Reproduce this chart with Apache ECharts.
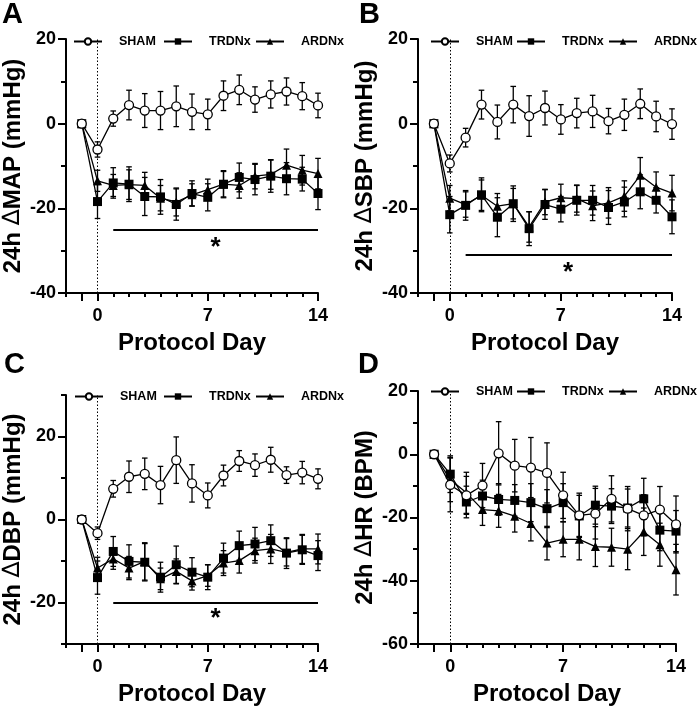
<!DOCTYPE html>
<html><head><meta charset="utf-8">
<script src="https://cdn.jsdelivr.net/npm/echarts@6/dist/echarts.min.js"></script>
<style>html,body{margin:0;padding:0;background:#fff}#c{width:700px;height:707px}</style>
</head><body><div id="c"></div>
<script>
const days = [-1, 0, 1, 2, 3, 4, 5, 6, 7, 8, 9, 10, 11, 12, 13, 14];
const seriesNames = ['SHAM', 'TRDNx', 'ARDNx'];
const xLabelDays = [0, 7, 14];
const xMajorTickDays = [-1, 0, 7, 14];

// Panel A: 24h ΔMAP
const mapSham     = [0, -6.1, 1.2, 4.4, 3.1, 3.1, 4.1, 2.8, 2.2, 6.6, 8.0, 5.7, 6.9, 7.6, 6.5, 4.3];
const mapShamErr  = [0, 1.8, 1.8, 3.5, 4.0, 4.5, 4.8, 4.2, 3.6, 3.5, 3.5, 3.0, 3.2, 3.2, 3.2, 2.9];
const mapTrdn     = [0, -18.4, -14.0, -14.3, -17.2, -17.3, -19.1, -16.5, -17.4, -14.3, -12.7, -13.2, -12.4, -13.0, -13.1, -16.5];
const mapTrdnErr  = [0, 4.0, 3.6, 4.1, 4.5, 4.1, 3.7, 3.0, 3.2, 3.2, 3.4, 3.6, 3.8, 3.8, 2.8, 3.8];
const mapArdn     = [0, -13.5, -14.6, -14.4, -14.6, -17.6, -18.5, -16.8, -15.6, -14.3, -14.6, -12.4, -12.0, -9.8, -11.0, -11.8];
const mapArdnErr  = [0, 2.5, 2.6, 3.5, 3.1, 3.0, 3.3, 2.6, 2.5, 3.0, 3.0, 3.0, 3.5, 3.8, 3.5, 3.6];
const mapSigBar   = [1, 14, -25];
const mapStar     = [7.5, -27.7];

// Panel B: 24h ΔSBP
const sbpSham     = [0, -9.4, -3.3, 4.5, 0.4, 4.5, 1.8, 3.7, 1.0, 2.5, 2.9, 0.6, 2.1, 4.7, 1.7, -0.1];
const sbpShamErr  = [0, 2.0, 2.2, 3.4, 4.0, 4.3, 4.8, 4.0, 3.5, 3.5, 3.8, 3.0, 3.7, 3.5, 3.6, 3.6];
const sbpTrdn     = [0, -21.5, -19.3, -16.8, -22.1, -18.9, -24.8, -19.1, -20.2, -18.1, -18.1, -19.8, -18.5, -16.1, -18.1, -22.0];
const sbpTrdnErr  = [0, 4.3, 3.5, 4.0, 4.6, 4.2, 4.0, 3.5, 3.0, 3.5, 3.5, 4.0, 3.5, 4.0, 3.0, 4.0];
const sbpArdn     = [0, -17.6, -19.1, -16.9, -19.5, -18.9, -24.4, -18.5, -17.5, -17.7, -19.4, -18.7, -17.1, -12.2, -15.0, -16.4];
const sbpArdnErr  = [0, 3.0, 3.0, 3.6, 3.0, 3.6, 3.6, 3.0, 3.2, 3.2, 3.5, 3.6, 3.6, 4.2, 3.6, 4.2];
const sbpSigBar   = [1, 14, -31];
const sbpStar     = [7.45, -33.5];

// Panel C: 24h ΔDBP
const dbpSham     = [0, -3.3, 7.4, 10.3, 11.0, 8.3, 14.3, 8.7, 5.8, 10.6, 14.1, 13.1, 14.4, 10.7, 11.3, 9.8];
const dbpShamErr  = [0, 1.5, 2.0, 3.8, 3.8, 4.5, 5.6, 4.5, 3.0, 2.5, 2.5, 2.7, 3.0, 2.0, 2.7, 2.4];
const dbpTrdn     = [0, -14.0, -7.7, -10.1, -10.3, -13.9, -10.9, -12.7, -13.9, -9.3, -6.3, -5.9, -5.1, -8.1, -7.3, -8.7];
const dbpTrdnErr  = [0, 4.0, 3.6, 4.0, 4.5, 3.6, 4.5, 3.5, 3.0, 3.6, 3.5, 4.0, 3.8, 3.7, 3.5, 3.6];
const dbpArdn     = [0, -11.7, -9.5, -11.7, -10.1, -14.3, -12.5, -14.8, -13.5, -10.5, -9.9, -7.5, -7.1, -7.9, -7.1, -7.1];
const dbpArdnErr  = [0, 2.6, 2.5, 2.8, 4.5, 2.6, 3.0, 2.2, 2.6, 3.0, 3.0, 3.0, 3.5, 3.3, 3.5, 3.6];
const dbpSigBar   = [1, 14, -20];
const dbpStar     = [7.5, -22.3];

// Panel D: 24h ΔHR
const hrSham      = [0, -9.7, -13.0, -9.9, 0.3, -3.6, -4.2, -5.9, -13.0, -19.3, -18.8, -14.1, -17.2, -19.3, -17.5, -22.2];
const hrShamErr   = [0, 8.5, 6.0, 7.0, 10.0, 8.3, 9.5, 9.5, 7.3, 7.0, 8.0, 7.3, 7.0, 6.5, 7.3, 9.0];
const hrTrdn      = [0, -6.3, -15.1, -13.2, -14.3, -14.6, -15.3, -17.2, -15.3, -19.5, -16.1, -16.4, -17.0, -14.1, -24.0, -24.3];
const hrTrdnErr   = [0, 5.8, 5.0, 5.0, 5.0, 5.0, 6.0, 6.0, 6.0, 6.5, 6.0, 5.5, 6.0, 6.5, 6.5, 6.5];
const hrArdn      = [0, -8.0, -12.2, -17.5, -17.9, -19.6, -21.9, -28.1, -26.9, -26.9, -29.2, -29.4, -30.0, -24.5, -28.6, -36.5];
const hrArdnErr   = [0, 7.0, 6.5, 5.0, 5.2, 5.0, 5.5, 5.3, 5.5, 6.5, 6.3, 6.0, 6.5, 7.5, 6.8, 8.0];

const yTitles = ['24h {d|\u2206}MAP (mmHg)', '24h {d|\u2206}SBP (mmHg)', '24h {d|\u2206}DBP (mmHg)', '24h {d|\u2206}HR (BPM)'];
const yRanges = [[-40, 20], [-40, 20], [-30, 30], [-60, 20]];
const yLabelVals = [[-40, -20, 0, 20], [-40, -20, 0, 20], [-20, 0, 20], [-60, -40, -20, 0, 20]];
const panelLetters = ['A', 'B', 'C', 'D'];

const FONT = '"Liberation Sans", Arial, Helvetica, sans-serif';
const panels = [
  { letter: panelLetters[0], yTitle: yTitles[0], yRange: yRanges[0], yLabels: yLabelVals[0],
    data: [[mapSham, mapShamErr], [mapTrdn, mapTrdnErr], [mapArdn, mapArdnErr]], sig: mapSigBar, star: mapStar,
    grid: { left: 63, top: 39, width: 255, height: 254 }, letterPos: [2, 0], legendLefts: [73, 163, 255], legendTop: 35 },
  { letter: panelLetters[1], yTitle: yTitles[1], yRange: yRanges[1], yLabels: yLabelVals[1],
    data: [[sbpSham, sbpShamErr], [sbpTrdn, sbpTrdnErr], [sbpArdn, sbpArdnErr]], sig: sbpSigBar, star: sbpStar,
    grid: { left: 418, top: 39, width: 254, height: 254 }, letterPos: [359, 0], legendLefts: [430, 516, 608], legendTop: 35 },
  { letter: panelLetters[2], yTitle: yTitles[2], yRange: yRanges[2], yLabels: yLabelVals[2],
    data: [[dbpSham, dbpShamErr], [dbpTrdn, dbpTrdnErr], [dbpArdn, dbpArdnErr]], sig: dbpSigBar, star: dbpStar,
    grid: { left: 63, top: 395, width: 255, height: 253 }, letterPos: [4, 350], legendLefts: [74, 163, 255], legendTop: 390 },
  { letter: panelLetters[3], yTitle: yTitles[3], yRange: yRanges[3], yLabels: yLabelVals[3],
    data: [[hrSham, hrShamErr], [hrTrdn, hrTrdnErr], [hrArdn, hrArdnErr]], sig: null, star: null,
    grid: { left: 418, top: 391, width: 258, height: 256 }, letterPos: [358, 350], legendLefts: [430, 516, 608], legendTop: 385 }
];

const symbols = ['circle', 'rect', 'triangle'];
const symbolSizes = [9, 9, 9];
const fills = ['#fff', '#000', '#000'];

const option = {
  animation: false,
  backgroundColor: '#fff',
  textStyle: { fontFamily: FONT, color: '#000' },
  grid: [], xAxis: [], yAxis: [], series: [], legend: [], graphic: []
};

function errRender(params, api) {
  const x = api.value(0), y = api.value(1), e = api.value(2);
  if (!e) return null;
  const t = api.coord([x, y + e]), b = api.coord([x, y - e]);
  const hw = 2.8;
  const st = { stroke: '#000', lineWidth: 1.3 };
  return { type: 'group', children: [
    { type: 'line', shape: { x1: t[0], y1: t[1], x2: b[0], y2: b[1] }, style: st },
    { type: 'line', shape: { x1: t[0] - hw, y1: t[1], x2: t[0] + hw, y2: t[1] }, style: st },
    { type: 'line', shape: { x1: b[0] - hw, y1: b[1], x2: b[0] + hw, y2: b[1] }, style: st }
  ]};
}

panels.forEach((p, i) => {
  option.grid.push(Object.assign({ containLabel: false }, p.grid));
  const xi = 2 * i, yi = 2 * i;
  option.xAxis.push({
    gridIndex: i, type: 'value', min: -2, max: 14, interval: 1, position: 'bottom',
    axisLine: { onZero: false, lineStyle: { color: '#000', width: 2 } },
    axisTick: { customValues: xMajorTickDays, length: 8, lineStyle: { color: '#000', width: 2 } },
    axisLabel: { customValues: xLabelDays, fontSize: 18, fontWeight: 'bold', color: '#000', margin: 14, fontFamily: FONT },
    splitLine: { show: false },
    name: 'Protocol Day', nameLocation: 'middle', nameGap: 38,
    nameTextStyle: { fontSize: 24, fontWeight: 'bold', color: '#000', fontFamily: FONT }
  });
  option.xAxis.push({
    gridIndex: i, type: 'value', min: -2, max: 14, interval: 1, position: 'bottom',
    axisLine: { show: false, onZero: false },
    axisTick: { length: 4, lineStyle: { color: '#000', width: 2 } },
    axisLabel: { show: false }, splitLine: { show: false }
  });
  option.yAxis.push({
    gridIndex: i, type: 'value', min: p.yRange[0], max: p.yRange[1], interval: 10, position: 'left',
    axisLine: { show: true, onZero: false, lineStyle: { color: '#000', width: 2 } },
    axisTick: { show: true, customValues: p.yLabels, length: 8, lineStyle: { color: '#000', width: 2 } },
    axisLabel: { customValues: p.yLabels, fontSize: 18, fontWeight: 'bold', color: '#000', margin: 10, fontFamily: FONT },
    splitLine: { show: false },
    name: p.yTitle, nameLocation: 'middle', nameGap: 41, nameRotate: 90,
    nameTextStyle: { fontSize: 24, fontWeight: 'bold', color: '#000', fontFamily: FONT,
      rich: { d: { fontSize: 24, fontWeight: 'normal', color: '#000', fontFamily: 'DejaVu Sans' } } }
  });
  option.yAxis.push({
    gridIndex: i, type: 'value', min: p.yRange[0], max: p.yRange[1], interval: 10, position: 'left',
    axisLine: { show: false, onZero: false },
    axisTick: { show: true, length: 5, lineStyle: { color: '#000', width: 2 } },
    axisLabel: { show: false }, splitLine: { show: false }
  });

  p.data.forEach((pair, k) => {
    const vals = pair[0], errs = pair[1];
    option.series.push({
      type: 'custom', name: seriesNames[k] + ' err', xAxisIndex: xi, yAxisIndex: yi,
      renderItem: errRender, z: 1, silent: true,
      encode: { x: 0, y: 1 },
      data: days.map((d, j) => [d, vals[j], errs[j]])
    });
  });
  // draw order: ARDNx, TRDNx, SHAM (SHAM on top)
  [2, 1, 0].forEach(k => {
    const vals = p.data[k][0];
    const s = {
      type: 'line', name: seriesNames[k], xAxisIndex: xi, yAxisIndex: yi, z: 3 + (2 - k),
      data: days.map((d, j) => [d, vals[j]]),
      symbol: symbols[k], symbolSize: symbolSizes[k], showAllSymbol: true,
      lineStyle: { color: '#000', width: 1.3 },
      itemStyle: { color: fills[k], borderColor: '#000', borderWidth: k === 0 ? 1.3 : 0 }
    };
    if (k === 0) {
      const mlData = [{ xAxis: 0, lineStyle: { type: [1.5, 2], color: '#000', width: 1 } }];
      if (p.sig) mlData.push([{ coord: [p.sig[0], p.sig[2]] }, { coord: [p.sig[1], p.sig[2]], lineStyle: { type: 'solid', color: '#000', width: 2 } }]);
      s.markLine = { silent: true, symbol: ['none', 'none'], label: { show: false }, animation: false, data: mlData,
        lineStyle: { color: '#000' }, emphasis: { disabled: true } };
      if (p.star) {
        s.markPoint = { silent: true, symbol: 'circle', symbolSize: 1, itemStyle: { color: 'rgba(0,0,0,0)' },
          label: { show: true, formatter: '*', fontSize: 26, fontWeight: 'bold', color: '#000', fontFamily: FONT,
            position: 'inside', offset: [0, 7] },
          data: [{ coord: p.star }] };
      }
    }
    option.series.push(s);
  });

  seriesNames.forEach((nm, k) => {
    option.legend.push({
      left: p.legendLefts[k], top: p.legendTop, orient: 'horizontal', data: [nm], padding: 0,
      itemWidth: 28, itemHeight: 8, itemGap: 0, selectedMode: false,
      textStyle: { fontSize: 12.5, fontWeight: 'bold', color: '#000', fontFamily: FONT, padding: [0, 0, 0, 12] }
    });
  });
  option.graphic.push({ type: 'text', left: p.letterPos[0], top: p.letterPos[1],
    style: { text: p.letter, font: 'bold 29px ' + FONT, fill: '#000' } });
});

const chart = echarts.init(document.getElementById('c'), null, { renderer: 'canvas' });
chart.setOption(option);
</script></body></html>
